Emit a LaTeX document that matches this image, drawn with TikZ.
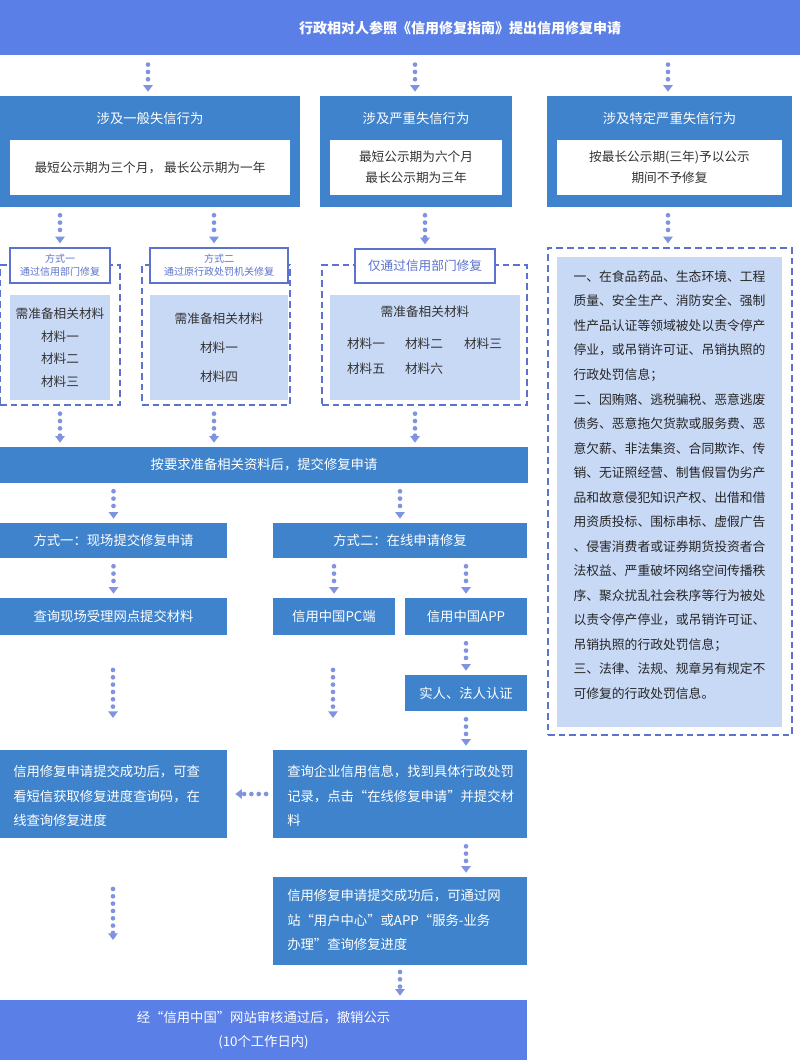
\documentclass[tikz,border=0pt]{standalone}
\usepackage{fontspec}
\setmainfont{Noto Sans CJK SC}
\usetikzlibrary{arrows.meta}
\definecolor{bannerc}{HTML}{5A7FE6}
\definecolor{darkc}{HTML}{3E83CC}
\definecolor{lightc}{HTML}{C8D9F6}
\definecolor{dashc}{HTML}{5B73CF}
\definecolor{dotc}{HTML}{8093E0}
\tikzset{
  sz/.style 2 args={minimum width=#1*0.75pt, minimum height=#2*0.75pt, inner sep=0pt},
  darkbox/.style={fill=darkc, text=white, font=\fontsize{10}{15}\selectfont},
  longbox/.style={darkbox, align=left, inner sep=0pt, font=\fontsize{10}{18.5}\selectfont},
  whitebox/.style={fill=white, text=black!80, align=center, font=\fontsize{9.5}{16}\selectfont},
  lightbox/.style={fill=lightc, text=black!80, align=center, font=\fontsize{9.5}{17}\selectfont},
  dashbox/.style={draw=dashc, line width=1pt, dash pattern=on 5pt off 3pt},
  tagbox/.style={draw=dashc, line width=1pt, fill=white, text=dashc, align=center},
  dotflow/.style={draw=dotc, line width=3.5pt, line cap=round, dash pattern=on 0pt off 5.5pt,
    -{Triangle[width=7pt,length=5pt]}, shorten <=2pt}
}
\begin{document}
\begin{tikzpicture}[x=0.75pt, y=-0.75pt]
\useasboundingbox (0,0) rectangle (800,1062);

% head
\node[fill=bannerc, sz={800}{55}] (top) at (400,27.5) {};
\node[text=white, font=\fontsize{10.5}{13}\selectfont\bfseries] (toptext) at (460,28) {行政相对人参照《信用修复指南》提出信用修复申请};

% three kinds
\node[darkbox, sz={300}{111}] (gen) at (150,151.5) {};
\node[text=white, font=\fontsize{10}{13}\selectfont] (gent) at (150,118) {涉及一般失信行为};
\node[whitebox, sz={280}{55}] (genw) at (150,167.5) {最短公示期为三个月， 最长公示期为一年};

\node[darkbox, sz={192}{111}] (ser) at (416,151.5) {};
\node[text=white, font=\fontsize{10}{13}\selectfont] (sert) at (416,118) {涉及严重失信行为};
\node[whitebox, sz={172}{55}] (serw) at (416,167.5) {最短公示期为六个月\\最长公示期为三年};

\node[darkbox, sz={245}{111}] (spc) at (669.5,151.5) {};
\node[text=white, font=\fontsize{10}{13}\selectfont] (spct) at (669.5,118) {涉及特定严重失信行为};
\node[whitebox, sz={225}{55}] (spcw) at (669.5,167.5) {按最长公示期(三年)予以公示\\期间不予修复};

% ways
\node[dashbox, sz={120}{140}] (d1) at (60,335) {};
\node[lightbox, sz={100}{105}] (m1) at (60,347.5) {需准备相关材料\\材料一\\材料二\\材料三};
\node[tagbox, sz={100}{35}, font=\fontsize{7.5}{10}\selectfont] (l1) at (60,265.5) {方式一\\通过信用部门修复};

\node[dashbox, sz={148}{140}] (d2) at (216,335) {};
\node[lightbox, sz={138}{105}, font=\fontsize{9.5}{22}\selectfont] (m2) at (219,347.5) {需准备相关材料\\材料一\\材料四};
\node[tagbox, sz={138}{35}, font=\fontsize{7.5}{10}\selectfont] (l2) at (219,265.5) {方式二\\通过原行政处罚机关修复};

\node[dashbox, sz={205}{140}] (d3) at (424.5,335) {};
\node[lightbox, sz={190}{105}] (m3) at (425,347.5) {};
\node[text=black!80, font=\fontsize{9.5}{12}\selectfont] (m3t) at (425,312) {需准备相关材料};
\node[text=black!80, font=\fontsize{9.5}{12}\selectfont] (c1) at (366,344) {材料一};
\node[text=black!80, font=\fontsize{9.5}{12}\selectfont] (c2) at (424,344) {材料二};
\node[text=black!80, font=\fontsize{9.5}{12}\selectfont] (c3) at (483,344) {材料三};
\node[text=black!80, font=\fontsize{9.5}{12}\selectfont] (c5) at (366,369) {材料五};
\node[text=black!80, font=\fontsize{9.5}{12}\selectfont] (c6) at (424,369) {材料六};
\node[tagbox, sz={140}{34}, font=\fontsize{9.5}{12}\selectfont] (l3) at (425,266) {仅通过信用部门修复};

% right list
\node[dashbox, sz={244}{487}] (dr) at (670,491.5) {};
\node[fill=lightc, sz={225}{470}] (mr) at (669.5,492) {};
\node[text=black!85, align=left, font=\fontsize{9.6}{18.4}\selectfont] (mrt) at (669.5,485) {一、在食品药品、生态环境、工程\\质量、安全生产、消防安全、强制\\性产品认证等领域被处以责令停产\\停业，或吊销许可证、吊销执照的\\行政处罚信息；\\二、因贿赂、逃税骗税、恶意逃废\\债务、恶意拖欠货款或服务费、恶\\意欠薪、非法集资、合同欺诈、传\\销、无证照经营、制售假冒伪劣产\\品和故意侵犯知识产权、出借和借\\用资质投标、围标串标、虚假广告\\、侵害消费者或证券期货投资者合\\法权益、严重破坏网络空间传播秩\\序、聚众扰乱社会秩序等行为被处\\以责令停产停业，或吊销许可证、\\吊销执照的行政处罚信息；\\三、法律、法规、规章另有规定不\\可修复的行政处罚信息。};

% apply
\node[darkbox, sz={528}{36}] (wide) at (264,465) {按要求准备相关资料后，提交修复申请};
\node[darkbox, sz={227}{35}] (w1) at (113.5,540.5) {方式一：现场提交修复申请};
\node[darkbox, sz={254}{35}] (w2) at (400,540.5) {方式二：在线申请修复};
\node[darkbox, sz={227}{37}] (q1) at (113.5,616.5) {查询现场受理网点提交材料};
\node[darkbox, sz={122}{37}] (pc) at (334,616.5) {信用中国PC端};
\node[darkbox, sz={122}{37}] (app) at (466,616.5) {信用中国APP};
\node[darkbox, sz={122}{36}] (auth) at (466,693) {实人、法人认证};
\node[fill=darkc, sz={227}{88}] (L) at (113.5,794) {};
\node[longbox, anchor=west] (Lt) at (13,796) {信用修复申请提交成功后，可查\\看短信获取修复进度查询码，在\\线查询修复进度};
\node[fill=darkc, sz={254}{88}] (R) at (400,794) {};
\node[longbox, anchor=west] (Rt) at (287,796) {查询企业信用信息，找到具体行政处罚\\记录，点击“在线修复申请”并提交材\\料};
\node[fill=darkc, sz={254}{88}] (P) at (400,921) {};
\node[longbox, anchor=west] (Pt) at (287,920) {信用修复申请提交成功后，可通过网\\站“用户中心”或APP“服务-业务\\办理”查询修复进度};
\node[fill=bannerc, text=white, sz={527}{60}, align=center, font=\fontsize{10}{18}\selectfont] (bottom) at (263.5,1030) {经“信用中国”网站审核通过后，撤销公示\\(10个工作日内)};

\coordinate (e1) at (113,718);
\coordinate (e2) at (333,718);
\coordinate (e3) at (113,940);

% connectors
\draw[dotflow] ([yshift=-5pt]top.south -| 148,0) -- ([yshift=3pt]gen.north -| 148,0);
\draw[dotflow] ([yshift=-5pt]top.south -| 415,0) -- ([yshift=3pt]ser.north -| 415,0);
\draw[dotflow] ([yshift=-5pt]top.south -| 668,0) -- ([yshift=3pt]spc.north -| 668,0);
\draw[dotflow] ([yshift=-4pt]gen.south -| l1) -- ([yshift=3pt]l1.north);
\draw[dotflow] ([yshift=-4pt]gen.south -| 214,0) -- ([yshift=3pt]l2.north -| 214,0);
\draw[dotflow] ([yshift=-4pt]ser.south -| l3) -- ([yshift=3pt]l3.north);
\draw[dotflow] ([yshift=-4pt]spc.south -| 668,0) -- ([yshift=3pt]dr.north -| 668,0);
\draw[dotflow] ([yshift=-4pt]d1.south) -- ([yshift=3pt]wide.north -| d1);
\draw[dotflow] ([yshift=-4pt]d2.south -| 214,0) -- ([yshift=3pt]wide.north -| 214,0);
\draw[dotflow] ([yshift=-4pt]d3.south -| 415,0) -- ([yshift=3pt]wide.north -| 415,0);
\draw[dotflow] ([yshift=-4pt]wide.south -| w1) -- ([yshift=3pt]w1.north);
\draw[dotflow] ([yshift=-4pt]wide.south -| w2) -- ([yshift=3pt]w2.north);
\draw[dotflow] ([yshift=-4pt]w1.south) -- ([yshift=3pt]q1.north);
\draw[dotflow] ([yshift=-4pt]w2.south -| pc) -- ([yshift=3pt]pc.north);
\draw[dotflow] ([yshift=-4pt]w2.south -| app) -- ([yshift=3pt]app.north);
\draw[dotflow] ([yshift=-4pt]app.south) -- ([yshift=3pt]auth.north);
\draw[dotflow] ([yshift=-24pt]q1.south -| e1) -- (e1);
\draw[dotflow] ([yshift=-24pt]pc.south -| e2) -- (e2);
\draw[dotflow] ([yshift=-4pt]auth.south) -- ([yshift=3pt]R.north -| auth);
\draw[dotflow] ([xshift=-3pt]R.west) -- ([xshift=6pt]L.east);
\draw[dotflow] ([yshift=-4pt]R.south -| auth) -- ([yshift=3pt]P.north -| auth);
\draw[dotflow] ([yshift=-36pt]L.south -| e3) -- (e3);
\draw[dotflow] ([yshift=-3pt]P.south) -- ([yshift=3pt]bottom.north -| P);
\end{tikzpicture}
\end{document}
